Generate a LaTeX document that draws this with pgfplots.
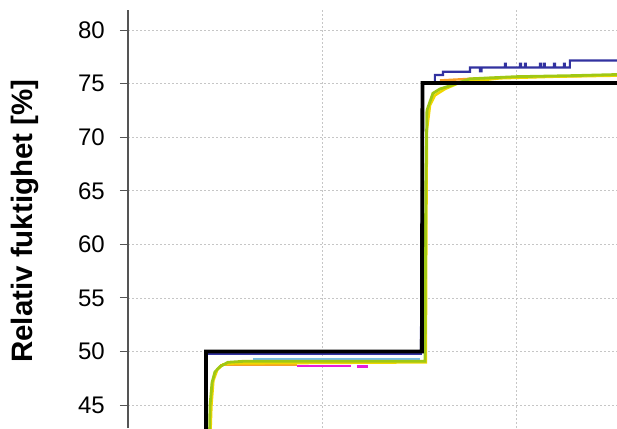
\documentclass[border=0pt]{standalone}
\usepackage{fontspec}
\setmainfont{Liberation Sans}
\usepackage{pgfplots}
\pgfplotsset{compat=1.18}
\definecolor{navy}{RGB}{50,50,160}
\definecolor{ygreen}{RGB}{160,200,20}
\definecolor{gold}{RGB}{240,215,0}
\definecolor{orng}{RGB}{245,160,40}
\definecolor{mag}{RGB}{230,30,220}
\definecolor{lblue}{RGB}{120,190,230}
\definecolor{axgray}{RGB}{85,85,85}
\begin{document}
\begin{tikzpicture}
\begin{axis}[
  scale only axis, width=489pt, height=418pt,
  xmin=0, xmax=2.521, ymin=42.87, ymax=81.87,
  axis y line*=left, axis x line*=bottom,
  x axis line style={draw=none},
  y axis line style={draw=axgray, line width=2.2pt},
  xtick={1,2}, xticklabels={}, 
  x tick style={draw=none},
  ytick={45,50,...,80},
  y tick style={draw=axgray, line width=1pt},
  tick align=outside, major tick length=8pt,
  xmajorgrids, ymajorgrids,
  major grid style={gray!45, line width=0.9pt, dash pattern=on 2pt off 2pt},
  /pgf/number format/assume math mode=true,
  yticklabel style={font=\fontsize{24}{28}\selectfont, anchor=east, inner sep=0pt, xshift=-15pt},
  ylabel={Relativ fuktighet [\%]},
  ylabel style={at={([xshift=-103pt]axis description cs:0,0.495)}, anchor=center, font=\bfseries\fontsize{29.5}{34}\selectfont},
  clip=true,
]
% light blue
\addplot[lblue, line width=2.2pt] coordinates {(0.644,49.3) (1.505,49.3)};
% magenta
\addplot[mag, line width=2.4pt] coordinates {(0.871,48.65) (1.15,48.65)};
\addplot[mag, line width=2.4pt] coordinates {(1.18,48.6) (1.237,48.6)};
% orange
\addplot[orng, line width=2.4pt] coordinates {(0.474,48.75) (0.871,48.75)};
\addplot[orng, line width=2.4pt] coordinates {(1.608,75.3) (1.763,75.45) (2.0,75.6) (2.3,75.7) (2.521,75.8)};
% navy
\addplot[navy, line width=2.2pt] coordinates {
(0.405,40) (0.405,49.8) (1.51,49.8) (1.52,75.0) (1.582,75.0) (1.582,75.8) (1.624,75.8) (1.624,76.1)
(1.763,76.1) (1.763,76.5) (1.814,76.5) (1.814,76.15) (1.822,76.15) (1.822,76.5)
(1.943,76.5) (1.943,76.85) (1.948,76.85) (1.948,76.5)
(2.021,76.5) (2.021,76.85) (2.026,76.85) (2.026,76.5)
(2.046,76.5) (2.046,76.85) (2.051,76.85) (2.051,76.5)
(2.124,76.5) (2.124,76.85) (2.129,76.85) (2.129,76.5)
(2.144,76.5) (2.144,76.85) (2.149,76.85) (2.149,76.5)
(2.196,76.5) (2.196,76.85) (2.201,76.85) (2.201,76.5)
(2.247,76.5) (2.247,76.85) (2.252,76.85) (2.252,76.5)
(2.278,76.5) (2.278,77.15) (2.521,77.15)};
% gold
\addplot[gold, line width=2.6pt] coordinates {
(0.42,40) (0.43,45) (0.44,47.3) (0.46,48.3) (0.49,48.8) (0.55,48.9) (1.52,49.0) (1.535,49.0)
(1.538,62) (1.541,70.7) (1.557,73.0) (1.582,73.9) (1.634,74.5) (1.711,75.1) (1.918,75.5) (2.2,75.65) (2.521,75.75)};
% yellow-green
\addplot[ygreen, line width=2.8pt] coordinates {
(0.418,40) (0.423,45) (0.433,47.1) (0.448,48.1) (0.474,48.6) (0.515,49.0) (0.6,49.1) (1.531,49.1)
(1.535,65) (1.541,72.5) (1.572,74.1) (1.608,74.5) (1.660,74.8) (1.763,75.45) (2.0,75.65) (2.3,75.75) (2.521,75.85)};
% black
\addplot[black, line width=3.8pt] coordinates {
(0.402,40) (0.402,50.0) (1.515,50.0) (1.518,75.05) (2.521,75.05)};
\end{axis}
\pgfresetboundingbox
\useasboundingbox (-128pt,0) rectangle (489pt,428pt);
\end{tikzpicture}
\end{document}
